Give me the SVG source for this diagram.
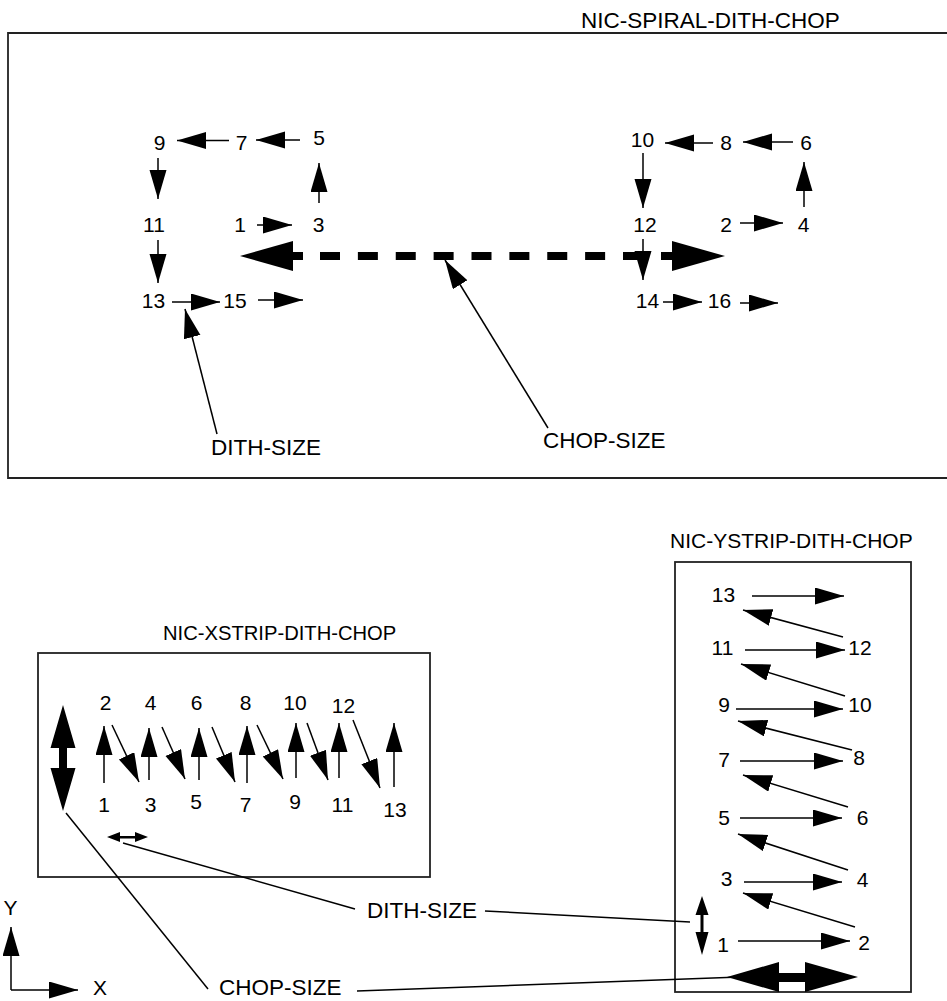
<svg xmlns="http://www.w3.org/2000/svg" width="947" height="1001" viewBox="0 0 947 1001">
<style>
text{font-family:"Liberation Sans",Arial,sans-serif;font-size:21px;fill:#000}
.c{text-anchor:middle}
.big{font-size:22.5px}
.ln{stroke:#000;stroke-width:1.5;fill:none}
.ar{stroke:#000;stroke-width:1.5;fill:none;marker-end:url(#ah)}
.frame{stroke:#222;stroke-width:1.8;fill:none}
.solid{fill:#000;stroke:none}
</style>
<defs>
<marker id="ah" markerUnits="userSpaceOnUse" markerWidth="30" markerHeight="18" refX="29" refY="8.5" orient="auto"><path d="M0,0 L29,8.5 L0,17 z" fill="#000"/></marker>
</defs>
<rect width="947" height="1001" fill="#fff"/>

<g id="frames">
<path class="frame" d="M948,33 H8 V478 H948"/>
<rect class="frame" x="38" y="653" width="392" height="224"/>
<rect class="frame" x="675" y="562" width="236" height="430"/>
</g>

<g id="titles">
<text id="t-spiral" class="big" x="581" y="28">NIC-SPIRAL-DITH-CHOP</text>
<text id="t-xstrip" x="163" y="640" style="font-size:20.2px">NIC-XSTRIP-DITH-CHOP</text>
<text id="t-ystrip" x="670" y="548">NIC-YSTRIP-DITH-CHOP</text>
</g>

<g id="spiral-nodes">
<text class="c" x="159.5" y="150">9</text>
<text class="c" x="241.5" y="150">7</text>
<text class="c" x="319" y="145">5</text>
<text class="c" x="154" y="232">11</text>
<text class="c" x="240" y="232">1</text>
<text class="c" x="318.5" y="232">3</text>
<text class="c" x="153.5" y="308">13</text>
<text class="c" x="235" y="308">15</text>
<text class="c" x="642.5" y="147">10</text>
<text class="c" x="726" y="150">8</text>
<text class="c" x="806" y="150">6</text>
<text class="c" x="645" y="232">12</text>
<text class="c" x="726" y="232">2</text>
<text class="c" x="803.5" y="232">4</text>
<text class="c" x="647.5" y="308">14</text>
<text class="c" x="719.5" y="308">16</text>
<text id="s-dith" class="big" x="211" y="455">DITH-SIZE</text>
<text id="s-chop" class="big" x="543" y="448">CHOP-SIZE</text>
</g>

<g id="xstrip-nodes">
<text class="c" x="105.5" y="710">2</text>
<text class="c" x="150.5" y="710">4</text>
<text class="c" x="196.5" y="710">6</text>
<text class="c" x="245.5" y="710">8</text>
<text class="c" x="295" y="710">10</text>
<text class="c" x="343.5" y="713">12</text>
<text class="c" x="104" y="812">1</text>
<text class="c" x="150.5" y="812">3</text>
<text class="c" x="196" y="809">5</text>
<text class="c" x="245.5" y="812">7</text>
<text class="c" x="295" y="809">9</text>
<text class="c" x="342.5" y="812">11</text>
<text class="c" x="395" y="817">13</text>
</g>

<g id="ystrip-nodes">
<text class="c" x="723.5" y="602">13</text>
<text class="c" x="860" y="655">12</text>
<text class="c" x="722.5" y="655">11</text>
<text class="c" x="860" y="712">10</text>
<text class="c" x="724" y="712">9</text>
<text class="c" x="859" y="765">8</text>
<text class="c" x="724" y="767">7</text>
<text class="c" x="862.5" y="825">6</text>
<text class="c" x="724" y="825">5</text>
<text class="c" x="862.5" y="887">4</text>
<text class="c" x="726.5" y="886">3</text>
<text class="c" x="864" y="950">2</text>
<text class="c" x="723" y="952">1</text>
</g>

<g id="labels">
<text id="b-dith" class="big" x="367" y="918">DITH-SIZE</text>
<text id="b-chop" class="big" x="219" y="995">CHOP-SIZE</text>
<text class="c" x="10.5" y="915">Y</text>
<text x="93" y="995">X</text>
</g>

<g id="connectors">
<!-- spiral left -->
<line class="ar" x1="229" y1="140.5" x2="177" y2="140.5"/>
<line class="ar" x1="300" y1="140" x2="256" y2="140"/>
<line class="ar" x1="319" y1="203" x2="319" y2="163"/>
<line class="ar" x1="158" y1="158" x2="158" y2="199"/>
<line class="ar" x1="257" y1="225" x2="292" y2="225"/>
<line class="ar" x1="158" y1="240" x2="158" y2="283"/>
<line class="ar" x1="172" y1="302" x2="220" y2="302"/>
<line class="ar" x1="258" y1="300" x2="303" y2="300"/>
<!-- spiral right -->
<line class="ar" x1="713" y1="143" x2="665" y2="143"/>
<line class="ar" x1="793" y1="142" x2="743" y2="142"/>
<line class="ar" x1="804" y1="207" x2="804" y2="162"/>
<line class="ar" x1="643" y1="153" x2="643" y2="208"/>
<line class="ar" x1="740" y1="223" x2="783" y2="223"/>
<line class="ar" x1="663" y1="302" x2="702" y2="302"/>
<line class="ar" x1="740" y1="303" x2="778" y2="303"/>
<!-- chop dashed -->
<polygon class="solid" points="240,256 293,241 293,271"/>
<rect class="solid" x="292" y="252" width="11" height="8"/>
<line x1="320" y1="256" x2="643" y2="256" stroke="#000" stroke-width="8" stroke-dasharray="20 17.875"/>
<rect class="solid" x="661" y="252" width="12" height="8"/>
<polygon class="solid" points="672,241 725,256 672,271"/>
<line class="ar" x1="643" y1="239" x2="643" y2="280"/>
<!-- spiral pointers -->
<line class="ar" x1="217" y1="434" x2="185" y2="309"/>
<line class="ar" x1="548" y1="428" x2="445" y2="260"/>

<!-- xstrip -->
<line class="ar" x1="104" y1="783" x2="104" y2="726"/>
<line class="ar" x1="149" y1="780" x2="149" y2="728"/>
<line class="ar" x1="199" y1="780" x2="199" y2="728"/>
<line class="ar" x1="247" y1="783" x2="247" y2="726"/>
<line class="ar" x1="296" y1="778" x2="296" y2="723"/>
<line class="ar" x1="339" y1="778" x2="339" y2="723"/>
<line class="ar" x1="394" y1="787" x2="394" y2="723"/>
<line class="ar" x1="112" y1="725" x2="139" y2="782"/>
<line class="ar" x1="162" y1="727" x2="185" y2="779"/>
<line class="ar" x1="212" y1="727" x2="235" y2="782"/>
<line class="ar" x1="257" y1="725" x2="283" y2="779"/>
<line class="ar" x1="307" y1="723" x2="328" y2="780"/>
<line class="ar" x1="353" y1="720" x2="380" y2="788"/>
<polygon class="solid" points="63,705 75.5,748 67,748 67,768 75.5,768 63,811 50.5,768 59,768 59,748 50.5,748"/>
<polygon class="solid" points="107,837 120,832 120,836 135,836 135,832 148,837 135,842 135,838.5 120,838.5 120,842"/>

<!-- ystrip -->
<line class="ar" x1="752" y1="596" x2="844" y2="596"/>
<line class="ar" x1="745" y1="650" x2="845" y2="650"/>
<line class="ar" x1="736" y1="709" x2="843" y2="709"/>
<line class="ar" x1="740" y1="761" x2="843" y2="761"/>
<line class="ar" x1="740" y1="818" x2="842" y2="818"/>
<line class="ar" x1="744" y1="882" x2="842" y2="882"/>
<line class="ar" x1="738" y1="941" x2="850" y2="941"/>
<line class="ar" x1="843" y1="637" x2="743" y2="610"/>
<line class="ar" x1="845" y1="696" x2="741" y2="664"/>
<line class="ar" x1="852" y1="750" x2="738" y2="721"/>
<line class="ar" x1="848" y1="807" x2="743" y2="775"/>
<line class="ar" x1="848" y1="870" x2="738" y2="834"/>
<line class="ar" x1="855" y1="927" x2="743" y2="893"/>
<polygon class="solid" points="702,896 708.5,915 703.5,915 703.5,932 708.5,932 702,955 695.5,932 700.5,932 700.5,915 695.5,915"/>
<polygon class="solid" points="727,977 779,962 779,973 805,973 805,962 858,977 805,992 805,982 779,982 779,992"/>

<!-- pointers bottom -->
<line class="ln" x1="66" y1="813" x2="208" y2="989"/>
<line class="ln" x1="123" y1="843" x2="355" y2="909"/>
<line class="ln" x1="485" y1="911" x2="690" y2="922"/>
<line class="ln" x1="357" y1="991" x2="740" y2="977"/>

<!-- axes -->
<line class="ar" x1="11" y1="990" x2="11" y2="927"/>
<line class="ar" x1="11" y1="990" x2="78" y2="990"/>
</g>
</svg>
